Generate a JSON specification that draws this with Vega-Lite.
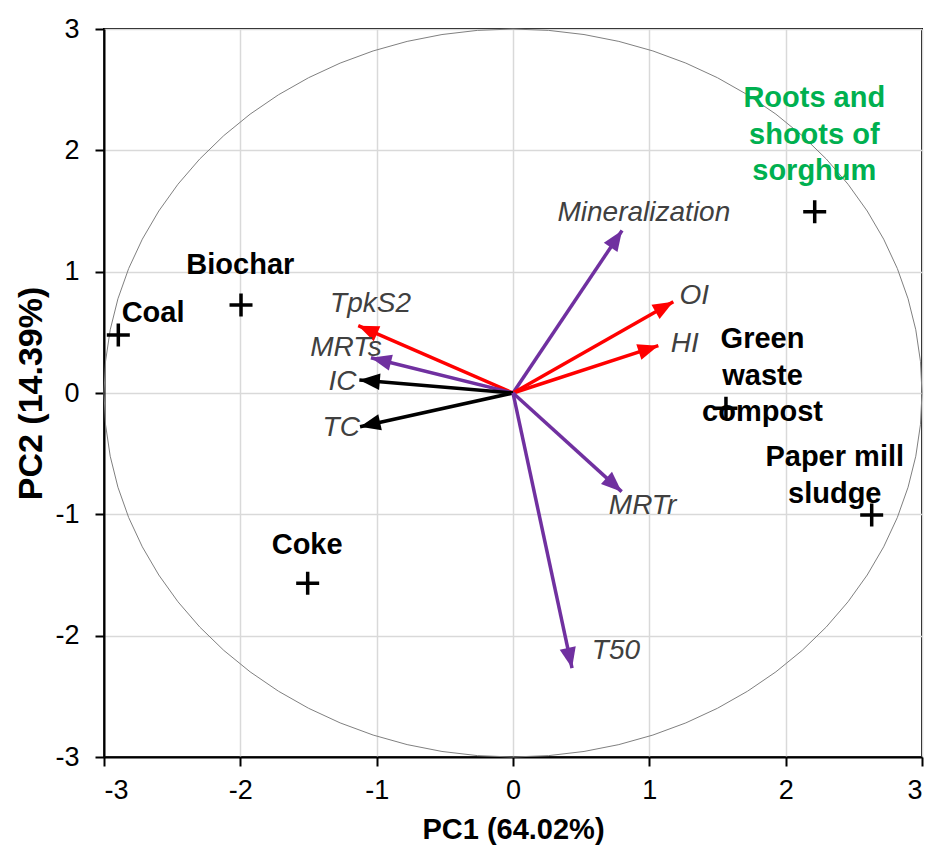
{
  "$schema": "https://vega.github.io/schema/vega-lite/v6.json",
  "width": 818,
  "height": 728,
  "autosize": "none",
  "padding": {"left": 104, "top": 29, "right": 10, "bottom": 93},
  "background": "white",
  "config": {
    "font": "Liberation Sans",
    "view": {"stroke": "black", "strokeWidth": 2},
    "axis": {
      "domainColor": "black",
      "domainWidth": 2,
      "tickColor": "black",
      "tickWidth": 2,
      "tickSize": 9,
      "gridColor": "#d9d9d9",
      "gridWidth": 1.5,
      "labelFont": "Liberation Sans",
      "labelFontSize": 27,
      "labelColor": "black",
      "titleFont": "Liberation Sans",
      "titleFontWeight": "bold",
      "titleColor": "black"
    }
  },
  "resolve": {"scale": {"color": "independent"}},
  "datasets": {
    "circle": [
      {"i":0,"x":3,"y":0},{"i":1,"x":2.9886,"y":0.2615},{"i":2,"x":2.9544,"y":0.5209},{"i":3,"x":2.8978,"y":0.7765},{"i":4,"x":2.8191,"y":1.0261},{"i":5,"x":2.7189,"y":1.2679},{"i":6,"x":2.5981,"y":1.5},{"i":7,"x":2.4575,"y":1.7207},{"i":8,"x":2.2981,"y":1.9284},{"i":9,"x":2.1213,"y":2.1213},{"i":10,"x":1.9284,"y":2.2981},{"i":11,"x":1.7207,"y":2.4575},{"i":12,"x":1.5,"y":2.5981},{"i":13,"x":1.2679,"y":2.7189},{"i":14,"x":1.0261,"y":2.8191},{"i":15,"x":0.7765,"y":2.8978},{"i":16,"x":0.5209,"y":2.9544},{"i":17,"x":0.2615,"y":2.9886},{"i":18,"x":0,"y":3},
      {"i":19,"x":-0.2615,"y":2.9886},{"i":20,"x":-0.5209,"y":2.9544},{"i":21,"x":-0.7765,"y":2.8978},{"i":22,"x":-1.0261,"y":2.8191},{"i":23,"x":-1.2679,"y":2.7189},{"i":24,"x":-1.5,"y":2.5981},{"i":25,"x":-1.7207,"y":2.4575},{"i":26,"x":-1.9284,"y":2.2981},{"i":27,"x":-2.1213,"y":2.1213},{"i":28,"x":-2.2981,"y":1.9284},{"i":29,"x":-2.4575,"y":1.7207},{"i":30,"x":-2.5981,"y":1.5},{"i":31,"x":-2.7189,"y":1.2679},{"i":32,"x":-2.8191,"y":1.0261},{"i":33,"x":-2.8978,"y":0.7765},{"i":34,"x":-2.9544,"y":0.5209},{"i":35,"x":-2.9886,"y":0.2615},{"i":36,"x":-3,"y":0},
      {"i":37,"x":-2.9886,"y":-0.2615},{"i":38,"x":-2.9544,"y":-0.5209},{"i":39,"x":-2.8978,"y":-0.7765},{"i":40,"x":-2.8191,"y":-1.0261},{"i":41,"x":-2.7189,"y":-1.2679},{"i":42,"x":-2.5981,"y":-1.5},{"i":43,"x":-2.4575,"y":-1.7207},{"i":44,"x":-2.2981,"y":-1.9284},{"i":45,"x":-2.1213,"y":-2.1213},{"i":46,"x":-1.9284,"y":-2.2981},{"i":47,"x":-1.7207,"y":-2.4575},{"i":48,"x":-1.5,"y":-2.5981},{"i":49,"x":-1.2679,"y":-2.7189},{"i":50,"x":-1.0261,"y":-2.8191},{"i":51,"x":-0.7765,"y":-2.8978},{"i":52,"x":-0.5209,"y":-2.9544},{"i":53,"x":-0.2615,"y":-2.9886},{"i":54,"x":0,"y":-3},
      {"i":55,"x":0.2615,"y":-2.9886},{"i":56,"x":0.5209,"y":-2.9544},{"i":57,"x":0.7765,"y":-2.8978},{"i":58,"x":1.0261,"y":-2.8191},{"i":59,"x":1.2679,"y":-2.7189},{"i":60,"x":1.5,"y":-2.5981},{"i":61,"x":1.7207,"y":-2.4575},{"i":62,"x":1.9284,"y":-2.2981},{"i":63,"x":2.1213,"y":-2.1213},{"i":64,"x":2.2981,"y":-1.9284},{"i":65,"x":2.4575,"y":-1.7207},{"i":66,"x":2.5981,"y":-1.5},{"i":67,"x":2.7189,"y":-1.2679},{"i":68,"x":2.8191,"y":-1.0261},{"i":69,"x":2.8978,"y":-0.7765},{"i":70,"x":2.9544,"y":-0.5209},{"i":71,"x":2.9886,"y":-0.2615},{"i":72,"x":3,"y":0}
    ],
    "arrows": [
      {"name":"Mineralization","group":"Incubation","x":0.80,"y":1.34,"lx":0.96,"ly":1.48},
      {"name":"OI","group":"Rock-Eval","x":1.176,"y":0.752,"lx":1.33,"ly":0.80},
      {"name":"HI","group":"Rock-Eval","x":1.066,"y":0.39,"lx":1.26,"ly":0.40},
      {"name":"TpkS2","group":"Rock-Eval","x":-1.135,"y":0.555,"lx":-1.045,"ly":0.73},
      {"name":"MRTs","group":"Incubation","x":-1.042,"y":0.291,"lx":-1.225,"ly":0.37},
      {"name":"IC","group":"Carbon","x":-1.127,"y":0.107,"lx":-1.25,"ly":0.09},
      {"name":"TC","group":"Carbon","x":-1.122,"y":-0.278,"lx":-1.26,"ly":-0.29},
      {"name":"MRTr","group":"Incubation","x":0.797,"y":-0.813,"lx":0.95,"ly":-0.93},
      {"name":"T50","group":"Incubation","x":0.433,"y":-2.267,"lx":0.755,"ly":-2.13}
    ],
    "samples": [
      {"name":"Coal","kind":"amendment","x":-2.895,"y":0.478,"lx":-2.64,"ly":0.66},
      {"name":"Biochar","kind":"amendment","x":-1.995,"y":0.725,"lx":-2.0,"ly":1.055},
      {"name":"Coke","kind":"amendment","x":-1.506,"y":-1.569,"lx":-1.51,"ly":-1.255},
      {"name":"Roots and\nshoots of\nsorghum","kind":"plant","x":2.213,"y":1.494,"lx":2.21,"ly":2.43},
      {"name":"Green\nwaste\ncompost","kind":"amendment","x":1.562,"y":-0.126,"lx":1.83,"ly":0.445},
      {"name":"Paper mill\nsludge","kind":"amendment","x":2.631,"y":-1.006,"lx":2.36,"ly":-0.53}
    ]
  },
  "layer": [
    {
      "data": {"name": "circle"},
      "mark": {"type": "line", "stroke": "#808080", "strokeWidth": 1, "clip": false},
      "encoding": {
        "x": {
          "field": "x", "type": "quantitative", "title": "PC1 (64.02%)",
          "scale": {"domain": [-3, 3], "nice": false, "zero": false},
          "axis": {"values": [-3, -2, -1, 0, 1, 2, 3], "labelExpr": "'' + datum.value", "labelFontSize": 27, "labelPadding": 11, "titleFontSize": 29, "titlePadding": 12}
        },
        "y": {
          "field": "y", "type": "quantitative", "title": "PC2 (14.39%)",
          "scale": {"domain": [-3, 3], "nice": false, "zero": false},
          "axis": {"values": [-3, -2, -1, 0, 1, 2, 3], "labelExpr": "'' + datum.value", "labelFontSize": 27, "labelPadding": 16, "titleFontSize": 34, "titlePadding": 6}
        },
        "order": {"field": "i", "type": "quantitative"}
      }
    },
    {
      "data": {"name": "arrows"},
      "mark": {"type": "rule", "strokeWidth": 3.5, "strokeCap": "butt"},
      "encoding": {
        "x": {"field": "x", "type": "quantitative", "title": "PC1 (64.02%)"},
        "y": {"field": "y", "type": "quantitative", "title": "PC2 (14.39%)"},
        "x2": {"datum": 0},
        "y2": {"datum": 0},
        "color": {"field": "group", "type": "nominal", "scale": {"domain": ["Rock-Eval", "Incubation", "Carbon"], "range": ["#ff0000", "#7030a0", "#000000"]}, "legend": null}
      }
    },
    {
      "data": {"name": "arrows"},
      "transform": [{"calculate": "atan2(datum.x * 136.333, datum.y * 121.333) * 180 / PI", "as": "ang"}],
      "mark": {"type": "point", "shape": "M0,0L0.8,2L-0.8,2Z", "filled": true, "opacity": 1, "size": 420},
      "encoding": {
        "x": {"field": "x", "type": "quantitative", "title": "PC1 (64.02%)"},
        "y": {"field": "y", "type": "quantitative", "title": "PC2 (14.39%)"},
        "angle": {"field": "ang", "type": "quantitative", "scale": null},
        "color": {"field": "group", "type": "nominal", "scale": {"domain": ["Rock-Eval", "Incubation", "Carbon"], "range": ["#ff0000", "#7030a0", "#000000"]}, "legend": null}
      }
    },
    {
      "data": {"name": "arrows"},
      "mark": {"type": "text", "fontStyle": "italic", "fontSize": 28, "color": "#404040", "align": "center", "baseline": "middle"},
      "encoding": {
        "x": {"field": "lx", "type": "quantitative", "title": "PC1 (64.02%)"},
        "y": {"field": "ly", "type": "quantitative", "title": "PC2 (14.39%)"},
        "text": {"field": "name", "type": "nominal"}
      }
    },
    {
      "data": {"name": "samples"},
      "mark": {"type": "text", "fontWeight": "bold", "fontSize": 29, "align": "center", "baseline": "middle", "lineBreak": "\n", "lineHeight": 36.5},
      "encoding": {
        "x": {"field": "lx", "type": "quantitative", "title": "PC1 (64.02%)"},
        "y": {"field": "ly", "type": "quantitative", "title": "PC2 (14.39%)"},
        "text": {"field": "name", "type": "nominal"},
        "color": {"field": "kind", "type": "nominal", "scale": {"domain": ["amendment", "plant"], "range": ["#000000", "#00b050"]}, "legend": null}
      }
    },
    {
      "data": {"name": "samples"},
      "mark": {"type": "point", "shape": "M-1,0L1,0M0,-1L0,1", "filled": false, "stroke": "black", "strokeWidth": 3.5, "opacity": 1, "size": 529},
      "encoding": {
        "x": {"field": "x", "type": "quantitative", "title": "PC1 (64.02%)"},
        "y": {"field": "y", "type": "quantitative", "title": "PC2 (14.39%)"}
      }
    }
  ]
}
